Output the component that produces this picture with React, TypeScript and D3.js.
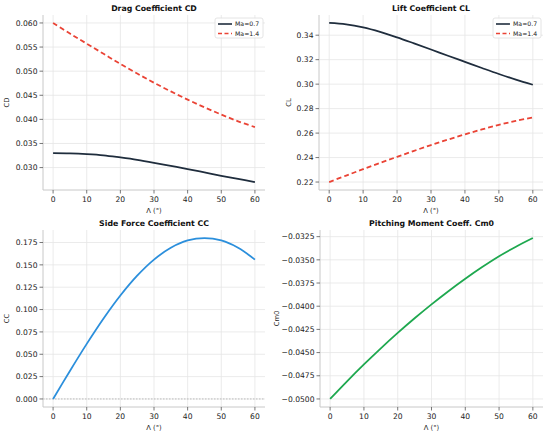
import React, { useEffect, useRef } from 'react';
import * as d3 from 'd3';

// sweep angle, deg
const sweep = [0, 5, 10, 15, 20, 25, 30, 35, 40, 45, 50, 55, 60];

const cdMa07 = [0.0330, 0.03295, 0.0328, 0.03255, 0.0321, 0.0316, 0.0310, 0.03035, 0.0297, 0.0290, 0.0283, 0.02765, 0.0270];
const cdMa14 = [0.0600, 0.0578, 0.0557, 0.0536, 0.0515, 0.0495, 0.0476, 0.0458, 0.0441, 0.0425, 0.0410, 0.0396, 0.0384];
const clMa07 = [0.3500, 0.3489, 0.3464, 0.3427, 0.3382, 0.3333, 0.3283, 0.3232, 0.3182, 0.3132, 0.3083, 0.3037, 0.2995];
const clMa14 = [0.2200, 0.2253, 0.2305, 0.2356, 0.2406, 0.2455, 0.2502, 0.2547, 0.2590, 0.2630, 0.2667, 0.2700, 0.2728];
const ccVals = [0, 0.0313, 0.0616, 0.0900, 0.1157, 0.1379, 0.1559, 0.1691, 0.1773, 0.1800, 0.1773, 0.1691, 0.1559];
const cm0Vals = [-0.0500, -0.0481, -0.04628, -0.04454, -0.04288, -0.0413, -0.0398, -0.03838, -0.03704, -0.03578, -0.03461, -0.03358, -0.03265];

const xTicks = [0, 10, 20, 30, 40, 50, 60];
const cdTicks = [0.030, 0.035, 0.040, 0.045, 0.050, 0.055, 0.060];
const clTicks = [0.22, 0.24, 0.26, 0.28, 0.30, 0.32, 0.34];
const ccTicks = [0, 0.025, 0.05, 0.075, 0.1, 0.125, 0.15, 0.175];
const cm0Ticks = [-0.05, -0.0475, -0.045, -0.0425, -0.04, -0.0375, -0.035, -0.0325];

const NAVY = '#1f2d3d';
const RED = '#ea4335';
const BLUE = '#2b8fdc';
const GREEN = '#1ea84f';
const FONT = 'DejaVu Sans, sans-serif';

type Series = { label: string; values: number[]; color: string; dash?: string };
type PanelDef = {
  title: string;
  ylabel: string;
  box: { left: number; right: number; top: number; bottom: number };
  series: Series[];
  ticks: number[];
  fmt: string;
  legend?: boolean;
  zeroLine?: boolean;
  ylabelX: number;
};

const panels: PanelDef[] = [
  {
    title: 'Drag Coefficient CD', ylabel: 'CD',
    box: { left: 43, right: 265, top: 15, bottom: 190 },
    series: [
      { label: 'Ma=0.7', values: cdMa07, color: NAVY },
      { label: 'Ma=1.4', values: cdMa14, color: RED, dash: '5,3' },
    ],
    ticks: cdTicks, fmt: '.3f', legend: true, ylabelX: 9,
  },
  {
    title: 'Lift Coefficient CL', ylabel: 'CL',
    box: { left: 319, right: 543, top: 15, bottom: 190 },
    series: [
      { label: 'Ma=0.7', values: clMa07, color: NAVY },
      { label: 'Ma=1.4', values: clMa14, color: RED, dash: '5,3' },
    ],
    ticks: clTicks, fmt: '.2f', legend: true, ylabelX: 291,
  },
  {
    title: 'Side Force Coefficient CC', ylabel: 'CC',
    box: { left: 43, right: 265, top: 230, bottom: 407 },
    series: [{ label: 'CC', values: ccVals, color: BLUE }],
    ticks: ccTicks, fmt: '.3f', zeroLine: true, ylabelX: 9,
  },
  {
    title: 'Pitching Moment Coeff. Cm0', ylabel: 'Cm0',
    box: { left: 320, right: 543, top: 230, bottom: 407 },
    series: [{ label: 'Cm0', values: cm0Vals, color: GREEN }],
    ticks: cm0Ticks, fmt: '.4f', ylabelX: 279,
  },
];

function drawPanel(root: d3.Selection<SVGGElement, unknown, null, undefined>, p: PanelDef) {
  const { left, right, top, bottom } = p.box;
  const g = root.append('g');

  const x = d3.scaleLinear().domain([-3, 63]).range([left, right]);
  const all = p.series.flatMap(s => s.values);
  const [lo, hi] = d3.extent(all) as [number, number];
  const pad = (hi - lo) * 0.05;
  const y = d3.scaleLinear().domain([lo - pad, hi + pad]).range([bottom, top]);

  // grid
  g.selectAll('.gx').data(xTicks).join('line')
    .attr('x1', d => x(d)).attr('x2', d => x(d))
    .attr('y1', top).attr('y2', bottom)
    .attr('stroke', '#e6e6e6').attr('stroke-width', 0.8);
  g.selectAll('.gy').data(p.ticks).join('line')
    .attr('x1', left).attr('x2', right)
    .attr('y1', d => y(d)).attr('y2', d => y(d))
    .attr('stroke', '#e6e6e6').attr('stroke-width', 0.8);

  if (p.zeroLine) {
    g.append('line')
      .attr('x1', left).attr('x2', right)
      .attr('y1', y(0)).attr('y2', y(0))
      .attr('stroke', '#999').attr('stroke-width', 0.6)
      .attr('stroke-dasharray', '1.5,1.5');
  }

  // spines
  g.append('line').attr('x1', left).attr('x2', left).attr('y1', top).attr('y2', bottom)
    .attr('stroke', '#c8c8c8').attr('stroke-width', 1);
  g.append('line').attr('x1', left).attr('x2', right).attr('y1', bottom).attr('y2', bottom)
    .attr('stroke', '#c8c8c8').attr('stroke-width', 1);

  // ticks
  const fmt = d3.format(p.fmt);
  g.selectAll('.tx').data(xTicks).join('line')
    .attr('x1', d => x(d)).attr('x2', d => x(d))
    .attr('y1', bottom).attr('y2', bottom + 3.5)
    .attr('stroke', '#555').attr('stroke-width', 0.8);
  g.selectAll('.lx').data(xTicks).join('text')
    .attr('x', d => x(d)).attr('y', bottom + 12)
    .attr('text-anchor', 'middle')
    .attr('font-size', 7.6).attr('font-family', FONT).attr('fill', '#222')
    .text(d => String(d));
  g.selectAll('.ty').data(p.ticks).join('line')
    .attr('x1', left - 3.5).attr('x2', left)
    .attr('y1', d => y(d)).attr('y2', d => y(d))
    .attr('stroke', '#555').attr('stroke-width', 0.8);
  g.selectAll('.ly').data(p.ticks).join('text')
    .attr('x', left - 5.5).attr('y', d => y(d))
    .attr('dy', '0.35em')
    .attr('text-anchor', 'end')
    .attr('font-size', 7.6).attr('font-family', FONT).attr('fill', '#222')
    .text(d => fmt(d));

  // labels
  g.append('text')
    .attr('x', (left + right) / 2).attr('y', top - 4)
    .attr('text-anchor', 'middle')
    .attr('font-size', 7.8).attr('font-weight', 'bold').attr('font-family', FONT).attr('fill', '#111')
    .text(p.title);
  g.append('text')
    .attr('x', (left + right) / 2).attr('y', bottom + 23)
    .attr('text-anchor', 'middle')
    .attr('font-size', 6.8).attr('font-family', FONT).attr('fill', '#222')
    .text('Λ (°)');
  g.append('text')
    .attr('transform', `translate(${p.ylabelX},${(top + bottom) / 2}) rotate(-90)`)
    .attr('text-anchor', 'middle')
    .attr('font-size', 6.8).attr('font-family', FONT).attr('fill', '#222')
    .text(p.ylabel);

  // series
  p.series.forEach(s => {
    const line = d3.line<number>()
      .x((_, i) => x(sweep[i]))
      .y(d => y(d))
      .curve(d3.curveCatmullRom);
    g.append('path')
      .attr('d', line(s.values))
      .attr('fill', 'none')
      .attr('stroke', s.color)
      .attr('stroke-width', 1.8)
      .attr('stroke-dasharray', s.dash ?? null);
  });

  if (p.legend) {
    const lw = 48, lh = 20;
    const lx = right - lw - 2, ly = top + 3;
    const lg = g.append('g').attr('transform', `translate(${lx},${ly})`);
    lg.append('rect')
      .attr('width', lw).attr('height', lh).attr('rx', 2)
      .attr('fill', 'white').attr('fill-opacity', 0.85)
      .attr('stroke', '#ddd').attr('stroke-width', 0.8);
    p.series.forEach((s, i) => {
      const yy = 6 + i * 9.5;
      lg.append('line')
        .attr('x1', 3).attr('x2', 17).attr('y1', yy).attr('y2', yy)
        .attr('stroke', s.color).attr('stroke-width', 1.6)
        .attr('stroke-dasharray', s.dash ? '4,2.5' : null);
      lg.append('text')
        .attr('x', 20).attr('y', yy).attr('dy', '0.35em')
        .attr('font-size', 6.2).attr('font-family', FONT).attr('fill', '#222')
        .text(s.label);
    });
  }
}

const App: React.FC = () => {
  const svgRef = useRef<SVGSVGElement>(null);

  useEffect(() => {
    if (!svgRef.current) return;
    const svg = d3.select(svgRef.current);
    svg.selectAll('*').remove();
    const root = svg.append('g');
    panels.forEach(p => drawPanel(root, p));
  }, []);

  return (
    <div style={{ position: 'absolute', left: 0, top: 0, width: 550, height: 435, background: 'white' }}>
      <svg ref={svgRef} width={550} height={435} viewBox="0 0 550 435" />
    </div>
  );
};

export default App;
